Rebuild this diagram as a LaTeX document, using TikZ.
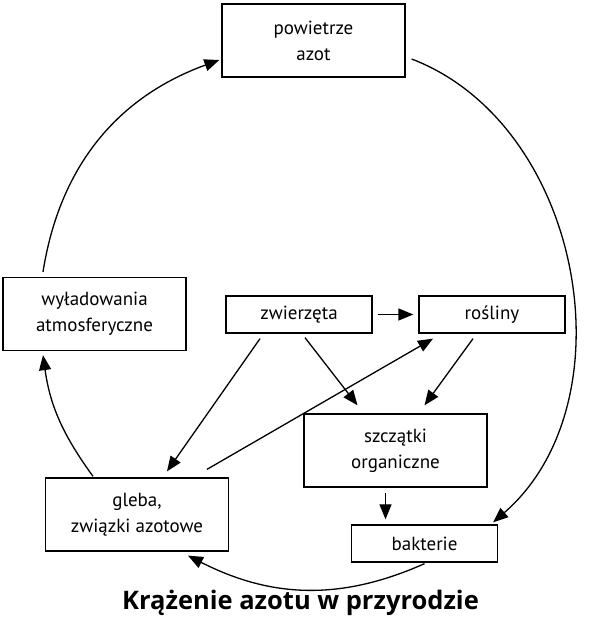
\documentclass[tikz,border=0pt]{standalone}
\usepackage{fontspec}
\setmainfont{PT Sans}
\newfontfamily\titlefont{Open Sans}
\usetikzlibrary{arrows.meta}
\tikzset{
box/.style=
    {draw=black,
    line width=1.3pt,
    rectangle,
    minimum width=183pt,
    minimum height=73pt,
    inner sep=0pt,
    align=center,
    font=\fontsize{19}{26}\selectfont
    },
small box/.style=
    {box,
    minimum width=146pt,
    minimum height=37pt
    },
link/.style=
    {draw=black,
    line width=1.3pt,
    -{Triangle[length=15pt,width=12pt]}
    }}

\begin{document}
\begin{tikzpicture}[x=1pt,y=1pt]
\useasboundingbox (0,0) rectangle (592,631);

\node[box] (powietrze) at (313.5,590.5) {powietrze\\azot};
\node[box] (wyladowania) at (94.5,317) {wyładowania\\atmosferyczne};
\node[small box] (zwierzeta) at (299,316.5) {zwierzęta};
\node[small box] (rosliny) at (492,316.5) {rośliny};
\node[box] (szczatki) at (395.5,180.5) {szczątki\\organiczne};
\node[box] (gleba) at (137,116.5) {gleba,\\związki azotowe};
\node[small box] (bakterie) at (424.5,87.5) {bakterie};
\node[anchor=base,font=\titlefont\bfseries\fontsize{25.5}{30}\selectfont] (tytul) at (300.5,21) {Krążenie azotu w przyrodzie};

% wielki obieg
\draw[link] ([xshift=6pt,yshift=-18.5pt]powietrze.east) to[out=-21,in=41] ([xshift=-5pt,yshift=2pt]bakterie.north east);
\draw[link] ([yshift=-1pt]bakterie.south) to[out=-156,in=-27] ([xshift=51pt,yshift=-4pt]gleba.south);
\draw[link] ([xshift=-44pt,yshift=1pt]gleba.north) to[out=126,in=-82] ([xshift=-51.5pt,yshift=-4pt]wyladowania.south);
\draw[link] ([xshift=-51.5pt,yshift=5pt]wyladowania.north) to[out=81,in=-160] ([xshift=-2pt,yshift=-19.5pt]powietrze.west);

% strzalki w srodku
\draw[link] ([xshift=5pt]zwierzeta.east) -- ([xshift=-5pt]rosliny.west);
\draw[link] ([xshift=-39pt,yshift=-5pt]zwierzeta.south) -- ([xshift=30pt,yshift=6pt]gleba.north);
\draw[link] ([xshift=6pt,yshift=-4pt]zwierzeta.south) -- ([xshift=-38pt,yshift=8pt]szczatki.north);
\draw[link] ([xshift=-19pt,yshift=-5pt]rosliny.south) -- ([xshift=29pt,yshift=8pt]szczatki.north);
\draw[link] ([xshift=70pt,yshift=8pt]gleba.north) -- ([xshift=-59pt,yshift=-5pt]rosliny.south);
\draw[link] ([xshift=-10pt,yshift=-5pt]szczatki.south) -- ([xshift=-39pt,yshift=5pt]bakterie.north);

\end{tikzpicture}
\end{document}
